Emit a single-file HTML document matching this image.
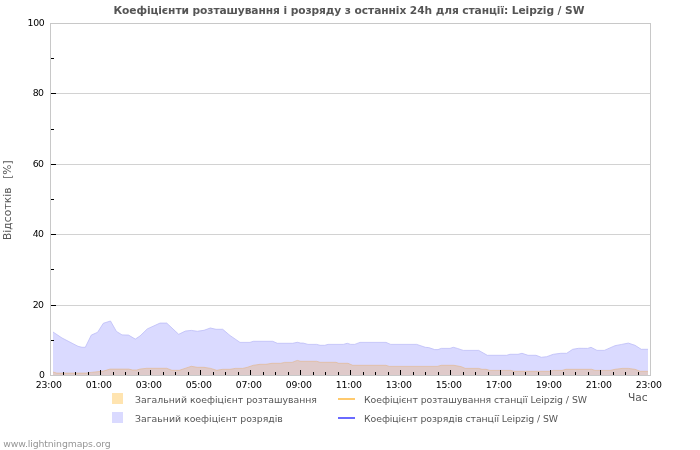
<!DOCTYPE html>
<html lang="uk">
<head>
<meta charset="utf-8">
<title>Коефіцієнти розташування і розряду</title>
<style>
html,body{margin:0;padding:0;background:#fff;}
body{width:700px;height:450px;overflow:hidden;}
svg{display:block;font-family:'DejaVu Sans','Liberation Sans',sans-serif;}
text{font-family:'DejaVu Sans','Liberation Sans',sans-serif;}
.ax{font-size:9.33px;fill:#000;}
.lg{font-size:9.33px;fill:#555;}
.gr{font-size:10.67px;fill:#555;}
</style>
</head>
<body>
<svg width="700" height="450" viewBox="0 0 700 450">
<rect x="0" y="0" width="700" height="450" fill="#ffffff"/>

<g stroke="#d2d2d2" stroke-width="1" shape-rendering="crispEdges">
<line x1="51" y1="305.5" x2="650" y2="305.5"/>
<line x1="51" y1="234.5" x2="650" y2="234.5"/>
<line x1="51" y1="164.5" x2="650" y2="164.5"/>
<line x1="51" y1="93.5" x2="650" y2="93.5"/>
</g>
<path d="M53.0,332.0 L62.0,338.0 L78.0,346.3 L82.0,347.3 L85.3,347.3 L91.3,335.1 L97.6,332.3 L103.3,323.3 L110.5,321.0 L116.4,331.4 L122.0,334.9 L128.5,335.1 L135.3,339.1 L140.0,336.0 L147.3,328.9 L160.0,323.1 L166.7,323.1 L178.7,334.3 L185.3,331.1 L191.3,330.4 L197.3,331.3 L204.0,330.3 L210.3,328.0 L216.0,329.3 L222.7,329.3 L230.0,335.5 L240.0,342.4 L250.0,342.4 L253.3,341.3 L272.7,341.3 L277.3,343.3 L292.7,343.3 L297.3,342.3 L300.7,343.1 L303.3,343.1 L308.0,344.4 L316.7,344.4 L320.0,345.3 L324.7,345.3 L328.0,344.4 L343.3,344.4 L347.3,343.3 L350.7,344.4 L354.7,344.4 L360.0,342.4 L386.0,342.4 L390.7,344.4 L410.0,344.4 L416.7,344.4 L425.3,347.3 L428.7,347.6 L434.7,349.6 L438.0,349.6 L441.3,348.4 L450.0,348.4 L453.3,347.3 L457.3,348.4 L463.3,350.4 L478.7,350.4 L487.3,355.3 L500.0,355.3 L506.7,355.3 L510.0,354.3 L518.0,354.3 L522.0,353.3 L528.0,355.3 L536.0,355.3 L541.3,357.3 L546.7,356.7 L553.3,354.3 L560.7,353.3 L566.7,353.3 L572.7,349.3 L578.7,348.3 L587.7,348.4 L591.0,347.3 L597.0,350.4 L604.3,350.4 L615.0,345.7 L621.7,344.4 L628.3,343.1 L635.0,345.3 L641.3,349.3 L648.0,349.3 L648.0,375 L53.0,375 Z" fill="#dadaff"/>
<path d="M53.0,332.0 L62.0,338.0 L78.0,346.3 L82.0,347.3 L85.3,347.3 L91.3,335.1 L97.6,332.3 L103.3,323.3 L110.5,321.0 L116.4,331.4 L122.0,334.9 L128.5,335.1 L135.3,339.1 L140.0,336.0 L147.3,328.9 L160.0,323.1 L166.7,323.1 L178.7,334.3 L185.3,331.1 L191.3,330.4 L197.3,331.3 L204.0,330.3 L210.3,328.0 L216.0,329.3 L222.7,329.3 L230.0,335.5 L240.0,342.4 L250.0,342.4 L253.3,341.3 L272.7,341.3 L277.3,343.3 L292.7,343.3 L297.3,342.3 L300.7,343.1 L303.3,343.1 L308.0,344.4 L316.7,344.4 L320.0,345.3 L324.7,345.3 L328.0,344.4 L343.3,344.4 L347.3,343.3 L350.7,344.4 L354.7,344.4 L360.0,342.4 L386.0,342.4 L390.7,344.4 L410.0,344.4 L416.7,344.4 L425.3,347.3 L428.7,347.6 L434.7,349.6 L438.0,349.6 L441.3,348.4 L450.0,348.4 L453.3,347.3 L457.3,348.4 L463.3,350.4 L478.7,350.4 L487.3,355.3 L500.0,355.3 L506.7,355.3 L510.0,354.3 L518.0,354.3 L522.0,353.3 L528.0,355.3 L536.0,355.3 L541.3,357.3 L546.7,356.7 L553.3,354.3 L560.7,353.3 L566.7,353.3 L572.7,349.3 L578.7,348.3 L587.7,348.4 L591.0,347.3 L597.0,350.4 L604.3,350.4 L615.0,345.7 L621.7,344.4 L628.3,343.1 L635.0,345.3 L641.3,349.3 L648.0,349.3" fill="none" stroke="#bcbcf8" stroke-width="0.8"/>
<path d="M53.0,372.0 L56.7,373.1 L86.0,373.1 L91.3,372.4 L103.3,371.1 L110.0,369.1 L128.7,369.1 L132.7,370.0 L136.7,370.0 L140.0,369.1 L146.7,368.3 L166.7,368.3 L172.0,370.3 L179.3,370.3 L191.3,366.3 L197.3,367.3 L204.0,367.3 L210.7,368.4 L216.7,370.3 L222.7,369.3 L230.0,369.3 L235.3,368.4 L242.7,368.4 L247.3,367.3 L253.3,365.3 L260.0,364.3 L266.0,364.3 L272.0,363.3 L280.7,363.3 L284.7,362.4 L292.0,362.4 L297.3,360.4 L300.7,361.3 L316.7,361.3 L320.0,362.3 L336.0,362.3 L338.7,363.3 L348.0,363.3 L352.7,365.3 L386.0,365.3 L389.3,366.4 L410.0,366.4 L437.3,366.4 L441.3,365.3 L454.0,365.3 L461.3,366.7 L465.3,368.4 L478.7,368.4 L482.0,369.3 L486.0,369.3 L490.0,370.4 L500.0,370.4 L510.7,370.4 L514.0,371.3 L549.3,371.3 L553.3,370.4 L562.0,370.4 L566.0,369.3 L591.7,369.3 L595.0,370.4 L610.3,370.4 L615.0,369.3 L622.3,368.4 L628.3,368.4 L635.0,369.3 L640.3,371.3 L648.0,371.3 L648.0,375 L53.0,375 Z" fill="#dfcaca"/>
<path d="M53.0,372.0 L56.7,373.1 L86.0,373.1 L91.3,372.4 L103.3,371.1 L110.0,369.1 L128.7,369.1 L132.7,370.0 L136.7,370.0 L140.0,369.1 L146.7,368.3 L166.7,368.3 L172.0,370.3 L179.3,370.3 L191.3,366.3 L197.3,367.3 L204.0,367.3 L210.7,368.4 L216.7,370.3 L222.7,369.3 L230.0,369.3 L235.3,368.4 L242.7,368.4 L247.3,367.3 L253.3,365.3 L260.0,364.3 L266.0,364.3 L272.0,363.3 L280.7,363.3 L284.7,362.4 L292.0,362.4 L297.3,360.4 L300.7,361.3 L316.7,361.3 L320.0,362.3 L336.0,362.3 L338.7,363.3 L348.0,363.3 L352.7,365.3 L386.0,365.3 L389.3,366.4 L410.0,366.4 L437.3,366.4 L441.3,365.3 L454.0,365.3 L461.3,366.7 L465.3,368.4 L478.7,368.4 L482.0,369.3 L486.0,369.3 L490.0,370.4 L500.0,370.4 L510.7,370.4 L514.0,371.3 L549.3,371.3 L553.3,370.4 L562.0,370.4 L566.0,369.3 L591.7,369.3 L595.0,370.4 L610.3,370.4 L615.0,369.3 L622.3,368.4 L628.3,368.4 L635.0,369.3 L640.3,371.3 L648.0,371.3" fill="none" stroke="#e2b588" stroke-width="0.6"/>
<rect x="50.5" y="23.5" width="600" height="352" fill="none" stroke="#c8c8c8" stroke-width="1" shape-rendering="crispEdges"/>
<g stroke="#000" stroke-width="1" shape-rendering="crispEdges">
<line x1="51" y1="340.5" x2="54" y2="340.5"/>
<line x1="51" y1="305.5" x2="56" y2="305.5"/>
<line x1="51" y1="269.5" x2="54" y2="269.5"/>
<line x1="51" y1="234.5" x2="56" y2="234.5"/>
<line x1="51" y1="199.5" x2="54" y2="199.5"/>
<line x1="51" y1="164.5" x2="56" y2="164.5"/>
<line x1="51" y1="129.5" x2="54" y2="129.5"/>
<line x1="51" y1="93.5" x2="56" y2="93.5"/>
<line x1="51" y1="58.5" x2="54" y2="58.5"/>
</g>
<g fill="#000" shape-rendering="crispEdges">
<rect x="63" y="372" width="1" height="3"/>
<rect x="75" y="372" width="1" height="3"/>
<rect x="88" y="372" width="1" height="3"/>
<rect x="100" y="370" width="1" height="5"/>
<rect x="113" y="372" width="1" height="3"/>
<rect x="125" y="372" width="1" height="3"/>
<rect x="138" y="372" width="1" height="3"/>
<rect x="150" y="370" width="1" height="5"/>
<rect x="163" y="372" width="1" height="3"/>
<rect x="175" y="372" width="1" height="3"/>
<rect x="188" y="372" width="1" height="3"/>
<rect x="200" y="370" width="1" height="5"/>
<rect x="213" y="372" width="1" height="3"/>
<rect x="225" y="372" width="1" height="3"/>
<rect x="238" y="372" width="1" height="3"/>
<rect x="250" y="370" width="1" height="5"/>
<rect x="263" y="372" width="1" height="3"/>
<rect x="275" y="372" width="1" height="3"/>
<rect x="288" y="372" width="1" height="3"/>
<rect x="300" y="370" width="1" height="5"/>
<rect x="313" y="372" width="1" height="3"/>
<rect x="325" y="372" width="1" height="3"/>
<rect x="338" y="372" width="1" height="3"/>
<rect x="350" y="370" width="1" height="5"/>
<rect x="363" y="372" width="1" height="3"/>
<rect x="375" y="372" width="1" height="3"/>
<rect x="388" y="372" width="1" height="3"/>
<rect x="400" y="370" width="1" height="5"/>
<rect x="413" y="372" width="1" height="3"/>
<rect x="425" y="372" width="1" height="3"/>
<rect x="438" y="372" width="1" height="3"/>
<rect x="450" y="370" width="1" height="5"/>
<rect x="463" y="372" width="1" height="3"/>
<rect x="475" y="372" width="1" height="3"/>
<rect x="488" y="372" width="1" height="3"/>
<rect x="500" y="370" width="1" height="5"/>
<rect x="513" y="372" width="1" height="3"/>
<rect x="525" y="372" width="1" height="3"/>
<rect x="538" y="372" width="1" height="3"/>
<rect x="550" y="370" width="1" height="5"/>
<rect x="563" y="372" width="1" height="3"/>
<rect x="575" y="372" width="1" height="3"/>
<rect x="588" y="372" width="1" height="3"/>
<rect x="600" y="370" width="1" height="5"/>
<rect x="613" y="372" width="1" height="3"/>
<rect x="625" y="372" width="1" height="3"/>
<rect x="638" y="372" width="1" height="3"/>
</g>
<text class="ax" x="44.9" y="377.9" text-anchor="end" letter-spacing="0">0</text>
<text class="ax" x="43.4" y="307.9" text-anchor="end" letter-spacing="-0.6">20</text>
<text class="ax" x="43.4" y="236.9" text-anchor="end" letter-spacing="-0.6">40</text>
<text class="ax" x="43.4" y="166.9" text-anchor="end" letter-spacing="-0.6">60</text>
<text class="ax" x="43.4" y="95.9" text-anchor="end" letter-spacing="-0.6">80</text>
<text class="ax" x="44.5" y="25.9" text-anchor="end" letter-spacing="-0.3">100</text>
<text class="ax" x="48.8" y="388" text-anchor="middle" letter-spacing="-0.15">23:00</text>
<text class="ax" x="98.8" y="388" text-anchor="middle" letter-spacing="-0.15">01:00</text>
<text class="ax" x="148.8" y="388" text-anchor="middle" letter-spacing="-0.15">03:00</text>
<text class="ax" x="198.8" y="388" text-anchor="middle" letter-spacing="-0.15">05:00</text>
<text class="ax" x="248.8" y="388" text-anchor="middle" letter-spacing="-0.15">07:00</text>
<text class="ax" x="298.8" y="388" text-anchor="middle" letter-spacing="-0.15">09:00</text>
<text class="ax" x="348.8" y="388" text-anchor="middle" letter-spacing="-0.15">11:00</text>
<text class="ax" x="398.8" y="388" text-anchor="middle" letter-spacing="-0.15">13:00</text>
<text class="ax" x="448.8" y="388" text-anchor="middle" letter-spacing="-0.15">15:00</text>
<text class="ax" x="498.8" y="388" text-anchor="middle" letter-spacing="-0.15">17:00</text>
<text class="ax" x="548.8" y="388" text-anchor="middle" letter-spacing="-0.15">19:00</text>
<text class="ax" x="598.8" y="388" text-anchor="middle" letter-spacing="-0.15">21:00</text>
<text class="ax" x="648.8" y="388" text-anchor="middle" letter-spacing="-0.15">23:00</text>
<text x="113.4" y="13.7" textLength="471" lengthAdjust="spacing" font-size="10.67px" font-weight="bold" fill="#555">Коефіцієнти розташування і розряду з останніх 24h для станції: Leipzig / SW</text>
<text class="gr" transform="translate(10.6,240.1) rotate(-90)" xml:space="preserve" style="white-space:pre"><tspan letter-spacing="0.1">Відсотків</tspan><tspan letter-spacing="0.85">  </tspan>[%]</text>
<text class="gr" x="647.6" y="401" text-anchor="end">Час</text>
<rect x="112" y="393" width="11" height="11" fill="#ffe4b0"/>
<rect x="112" y="412" width="11" height="11" fill="#dadaff"/>
<text class="lg" x="135" y="403.2">Загальний коефіцієнт розташування</text>
<text class="lg" x="135" y="422.2">Загаьний коефіцієнт розрядів</text>
<rect x="338" y="398" width="17" height="2" fill="#ffca6e"/>
<rect x="338" y="417" width="17" height="2" fill="#6a6aff"/>
<text class="lg" x="364" y="403.2" textLength="223" lengthAdjust="spacing">Коефіцієнт розташування станції Leipzig / SW</text>
<text class="lg" x="364" y="422.2" textLength="194" lengthAdjust="spacing">Коефіцієнт розрядів станції Leipzig / SW</text>
<text x="3.2" y="447" font-size="9.33px" fill="#969696" textLength="107.5" lengthAdjust="spacing">www.lightningmaps.org</text>
</svg>
</body>
</html>
